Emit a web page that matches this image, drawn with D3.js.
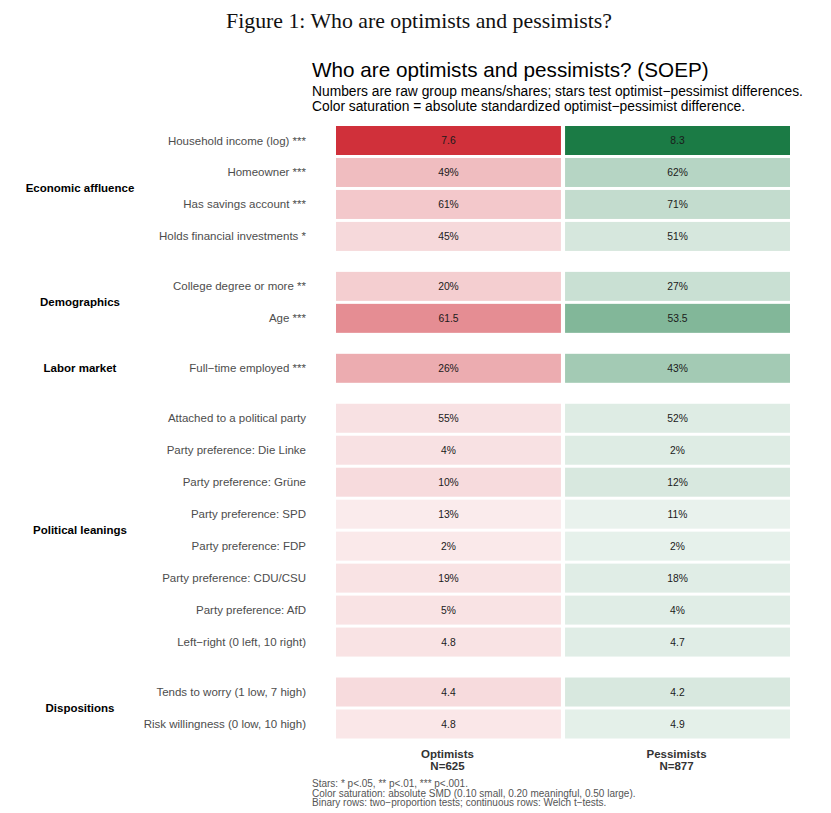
<!DOCTYPE html>
<html>
<head>
<meta charset="utf-8">
<script src="https://cdn.jsdelivr.net/npm/d3@7"></script>
<style>
  body { margin: 0; background: #fff; }
</style>
</head>
<body>
<div id="chart"></div>
<script>
// Data
const groups = ["Economic affluence", "Demographics", "Labor market", "Political leanings", "Dispositions"];
const rowLabels = [
  "Household income (log)", "Homeowner", "Has savings account", "Holds financial investments",
  "College degree or more", "Age",
  "Full\u2212time employed",
  "Attached to a political party", "Party preference: Die Linke", "Party preference: Gr\u00fcne",
  "Party preference: SPD", "Party preference: FDP", "Party preference: CDU/CSU",
  "Party preference: AfD", "Left\u2212right (0 left, 10 right)",
  "Tends to worry (1 low, 7 high)", "Risk willingness (0 low, 10 high)"
];
const rowGroup = [0, 0, 0, 0, 1, 1, 2, 3, 3, 3, 3, 3, 3, 3, 3, 4, 4];
const stars = ["***", "***", "***", "*", "**", "***", "***", "", "", "", "", "", "", "", "", "", ""];
const binary = [false, true, true, true, true, false, true, true, true, true, true, true, true, true, false, false, false];
const optimists = [7.6, 49, 61, 45, 20, 61.5, 26, 55, 4, 10, 13, 2, 19, 5, 4.8, 4.4, 4.8];
const pessimists = [8.3, 62, 71, 51, 27, 53.5, 43, 52, 2, 12, 11, 2, 18, 4, 4.7, 4.2, 4.9];
const absSmd = [1.0, 0.26, 0.2, 0.11, 0.17, 0.51, 0.35, 0.07, 0.07, 0.1, 0.02, 0.03, 0.06, 0.06, 0.06, 0.1, 0.04];
const columns = ["Optimists", "Pessimists"];
const columnN = ["N=625", "N=877"];
const notes = [
  "Stars: * p<.05, ** p<.01, *** p<.001.",
  "Color saturation: absolute SMD (0.10 small, 0.20 meaningful, 0.50 large).",
  "Binary rows: two\u2212proportion tests; continuous rows: Welch t\u2212tests."
];

const W = 831, H = 813;
const svg = d3.select("#chart").append("svg")
  .attr("width", W)
  .attr("height", H)
  .style("font-family", "'Liberation Sans', Arial, sans-serif");

// figure caption
svg.append("text")
  .attr("x", 419).attr("y", 28)
  .attr("text-anchor", "middle")
  .style("font-family", "'Liberation Serif', 'DejaVu Serif', serif")
  .style("font-size", "21.8px")
  .attr("fill", "#111")
  .text("Figure 1: Who are optimists and pessimists?");

// title + subtitle
svg.append("text")
  .attr("x", 312).attr("y", 77)
  .style("font-size", "20.7px")
  .attr("fill", "#000")
  .text("Who are optimists and pessimists? (SOEP)");
svg.append("text")
  .attr("x", 312).attr("y", 96)
  .style("font-size", "13.8px")
  .attr("fill", "#000")
  .text("Numbers are raw group means/shares; stars test optimist\u2212pessimist differences.");
svg.append("text")
  .attr("x", 312).attr("y", 111)
  .style("font-size", "13.8px")
  .attr("fill", "#000")
  .text("Color saturation = absolute standardized optimist\u2212pessimist difference.");

// row positions: one unit per row, plus a spacer between groups
const gapUnits = 0.5625;
const unit = rowLabels.map((d, i) => i + rowGroup[i] * gapUnits);
const y = d3.scaleLinear()
  .domain([0, d3.max(unit)])
  .range([140.5, 724]);
const cellH = 29;

const x = d3.scaleBand()
  .domain(columns)
  .range([336, 790])
  .paddingInner(0.018);

const satScale = d3.scaleLinear().domain([0, 1]).range([0.08, 1]).clamp(true);
const fullColor = { Optimists: "#d0303a", Pessimists: "#1b7b45" };
const fmt = (v, i) => binary[i] ? v + "%" : d3.format(".1f")(v);

const cells = [];
rowLabels.forEach((lab, i) => {
  cells.push({ row: i, col: "Optimists", value: optimists[i] });
  cells.push({ row: i, col: "Pessimists", value: pessimists[i] });
});

const g = svg.append("g");
g.selectAll("rect.cell")
  .data(cells)
  .join("rect")
  .attr("class", "cell")
  .attr("x", d => x(d.col))
  .attr("y", d => y(unit[d.row]) - cellH / 2)
  .attr("width", x.bandwidth())
  .attr("height", cellH)
  .attr("fill", d => d3.interpolateRgb("#ffffff", fullColor[d.col])(satScale(absSmd[d.row])));

g.selectAll("text.val")
  .data(cells)
  .join("text")
  .attr("class", "val")
  .attr("x", d => x(d.col) + x.bandwidth() / 2)
  .attr("y", d => y(unit[d.row]))
  .attr("dy", "0.35em")
  .attr("text-anchor", "middle")
  .style("font-size", "10.3px")
  .attr("fill", "#1a1a1a")
  .text(d => fmt(d.value, d.row));

// row labels
g.selectAll("text.rowlab")
  .data(rowLabels)
  .join("text")
  .attr("class", "rowlab")
  .attr("x", 306)
  .attr("y", (d, i) => y(unit[i]))
  .attr("dy", "0.35em")
  .attr("text-anchor", "end")
  .style("font-size", "11.5px")
  .attr("fill", "#4d4d4d")
  .text((d, i) => stars[i] ? d + " " + stars[i] : d);

// group labels, centred on their rows
g.selectAll("text.grp")
  .data(groups)
  .join("text")
  .attr("class", "grp")
  .attr("x", 80)
  .attr("y", (d, gi) => {
    const idx = d3.range(rowLabels.length).filter(i => rowGroup[i] === gi);
    return (y(unit[idx[0]]) + y(unit[idx[idx.length - 1]])) / 2;
  })
  .attr("dy", "0.35em")
  .attr("text-anchor", "middle")
  .style("font-size", "11.5px")
  .style("font-weight", "bold")
  .attr("fill", "#000")
  .text(d => d);

// column headers at the bottom
const hdr = g.selectAll("text.hdr")
  .data(columns)
  .join("text")
  .attr("class", "hdr")
  .attr("x", d => x(d) + x.bandwidth() / 2 - 1)
  .attr("y", 758)
  .attr("text-anchor", "middle")
  .style("font-size", "11.5px")
  .style("font-weight", "bold")
  .attr("fill", "#333");
hdr.append("tspan").text(d => d);
hdr.append("tspan")
  .attr("x", d => x(d) + x.bandwidth() / 2 - 1)
  .attr("dy", 12)
  .text((d, i) => columnN[i]);

// notes
g.selectAll("text.note")
  .data(notes)
  .join("text")
  .attr("class", "note")
  .attr("x", 312)
  .attr("y", (d, i) => 787 + i * 9.6)
  .style("font-size", "10px")
  .attr("fill", "#555")
  .text(d => d);
</script>
</body>
</html>
